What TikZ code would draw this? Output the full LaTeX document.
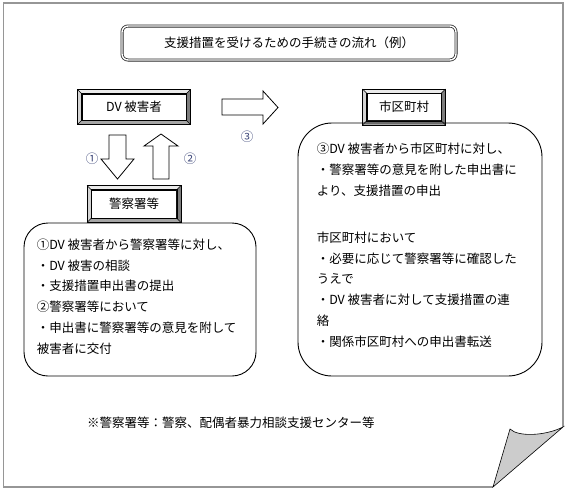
\documentclass[tikz,border=0pt]{standalone}
\usepackage{fontspec}
\setmainfont{Noto Sans CJK JP}
\usetikzlibrary{calc,positioning}
\definecolor{PageClr}{RGB}{150,150,150}
\definecolor{CurlClr}{RGB}{204,204,204}
\definecolor{BevTopClr}{RGB}{234,234,234}
\definecolor{BevLeftClr}{RGB}{212,212,212}
\definecolor{BevRightClr}{RGB}{125,125,125}
\definecolor{BevBotClr}{RGB}{165,165,165}
\definecolor{NumClr}{RGB}{60,70,120}

\newcommand\bevelframe[1]{%
  \fill[BevTopClr] ($(#1.north west)+(-4,-4)$) -- ($(#1.north east)+(4,-4)$) -- (#1.north east) -- (#1.north west) -- cycle;
  \fill[BevLeftClr] ($(#1.north west)+(-4,-4)$) -- (#1.north west) -- (#1.south west) -- ($(#1.south west)+(-4,4)$) -- cycle;
  \fill[BevRightClr] ($(#1.north east)+(4,-4)$) -- ($(#1.south east)+(4,4)$) -- (#1.south east) -- (#1.north east) -- cycle;
  \fill[BevBotClr] ($(#1.south west)+(-4,4)$) -- ($(#1.south east)+(4,4)$) -- (#1.south east) -- (#1.south west) -- cycle;
  \draw[line width=.5] ($(#1.north west)+(-4,-4)$) -- (#1.north west) ($(#1.north east)+(4,-4)$) -- (#1.north east)
    ($(#1.south west)+(-4,4)$) -- (#1.south west) ($(#1.south east)+(4,4)$) -- (#1.south east);
  \draw[line width=.8] ($(#1.north west)+(-4,-4)$) rectangle ($(#1.south east)+(4,4)$);
  \draw[line width=.8] (#1.north west) rectangle (#1.south east);
}

\begin{document}
\begin{tikzpicture}[x=1pt,y=-1pt,
  font=\fontsize{12.5}{20.8}\selectfont,
  bevelbox/.style={draw,fill=white,line width=.8,inner sep=0pt},
  roundbox/.style={draw,line width=.9,inner sep=0pt},
  titlebox/.style={draw=black!85,double=white,double distance=1.4pt,line width=.8,rounded corners=6pt,inner sep=0pt},
  boxtext/.style={align=left,inner sep=0pt,anchor=north west},
  blockarrow/.style={draw,fill=white,line width=.8,line join=miter},
  numlabel/.style={text=NumClr,inner sep=0pt}]
\useasboundingbox (0,0) rectangle (569,490);

\draw[PageClr,line width=1.5] (493,487) -- (3.5,487) -- (3.5,3) -- (563,3) -- (563,427);
\filldraw[fill=CurlClr,draw=black,line width=.6] (493,487) -- (510,429) .. controls (518,437) and (545,436) .. (563,427) -- cycle;

\node[titlebox,minimum width=334,minimum height=34] (title) at (289,43) {支援措置を受けるための手続きの流れ（例）};

\node[bevelbox,minimum width=104,minimum height=26] (victim) at (134,107) {DV 被害者};
\bevelframe{victim}
\node[bevelbox,minimum width=85,minimum height=28] (police) at (134,204) {警察署等};
\bevelframe{police}
\node[bevelbox,minimum width=74,minimum height=27] (city) at (404,107) {市区町村};
\bevelframe{city}

\draw[blockarrow] (109,135) -- (126,135) -- (126,159) -- (134,159) -- (117.5,179) -- (101,159) -- (109,159) -- cycle;
\draw[blockarrow] (153,179) -- (169,179) -- (169,146) -- (178,146) -- (161,134) -- (144,146) -- (153,146) -- cycle;
\draw[blockarrow] (222,99) -- (263,99) -- (263,91) -- (278,107.5) -- (263,124) -- (263,115) -- (222,115) -- cycle;
\node[numlabel] (n1) at (92,159) {①};
\node[numlabel] (n2) at (190,159) {②};
\node[numlabel] (n3) at (247,137) {③};

\node[roundbox,minimum width=232,minimum height=153,rounded corners=24] (policebox) at (140,299.5) {};
\node[boxtext] (policetext) at ($(policebox.north west)+(13,16)$)
  {①DV 被害者から警察署等に対し、\\
   ・DV 被害の相談\\
   ・支援措置申出書の提出\\
   ②警察署等において\\
   ・申出書に警察署等の意見を附して\\
   被害者に交付};

\node[roundbox,minimum width=244,minimum height=253,rounded corners=34] (citybox) at (420,249.5) {};
\node[boxtext] (citytext) at ($(citybox.north west)+(19,20.5)$)
  {③DV 被害者から市区町村に対し、\\
   ・警察署等の意見を附した申出書に\\
   より、支援措置の申出\\[26pt]
   市区町村において\\
   ・必要に応じて警察署等に確認した\\
   うえで\\
   ・DV 被害者に対して支援措置の連\\
   絡\\
   ・関係市区町村への申出書転送};

\node[inner sep=0pt,anchor=west] (note) at (87,423) {※警察署等：警察、配偶者暴力相談支援センター等};
\end{tikzpicture}
\end{document}
